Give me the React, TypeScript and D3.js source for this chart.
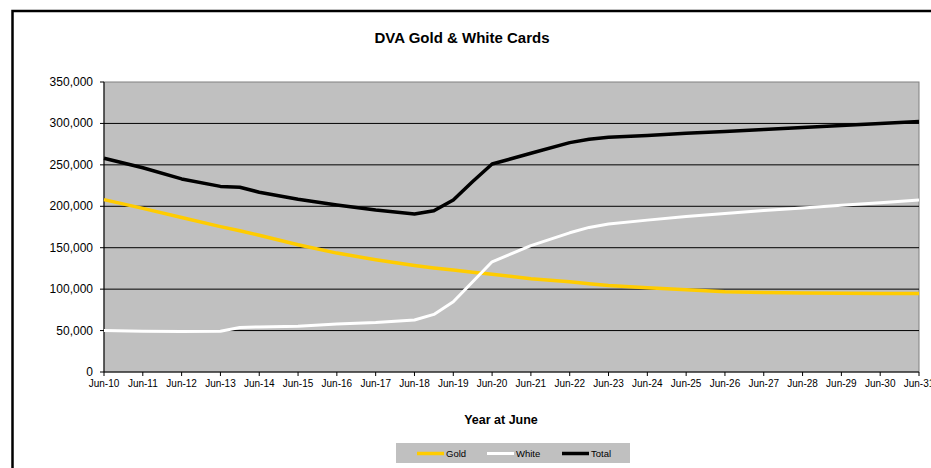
import * as d3 from 'd3';

// half-year points only where the source line has a visible kink
const years = [
  2010, 2011, 2012, 2013, 2013.5, 2014, 2015, 2016, 2017, 2018, 2018.5, 2019, 2019.5,
  2020, 2021, 2022, 2022.5, 2023, 2024, 2025, 2026, 2027, 2028, 2029, 2030, 2031
];

const gold = [
  208000, 197500, 186500, 175500, 170500, 165000, 153500, 143500, 135500, 128500, 125500,
  123000, 120500, 118000, 112500, 109000, 106500, 104500, 101800, 99400, 97000, 95800,
  95200, 95000, 94800, 94600
];

const white = [
  50000, 49200, 48800, 49100, 53800, 54300, 55300, 57800, 59600, 62800, 69500, 84800,
  109000, 133000, 152500, 168000, 174500, 178500, 183300, 187800, 191300, 194800, 198000,
  201200, 204400, 207600
];

const total = [
  258000, 246500, 233000, 224000, 223000, 217000, 208500, 201500, 195500, 190800, 194500,
  207600, 230000, 251000, 264000, 276800, 281000, 283200, 285500, 288000, 290400, 292800,
  295200, 297600, 300000, 302300
];

const tickYears = d3.range(2010, 2032);
const tickLabels = [
  'Jun-10', 'Jun-11', 'Jun-12', 'Jun-13', 'Jun-14', 'Jun-15', 'Jun-16', 'Jun-17',
  'Jun-18', 'Jun-19', 'Jun-20', 'Jun-21', 'Jun-22', 'Jun-23', 'Jun-24', 'Jun-25',
  'Jun-26', 'Jun-27', 'Jun-28', 'Jun-29', 'Jun-30', 'Jun-31'
];
const yTicks = [0, 50000, 100000, 150000, 200000, 250000, 300000, 350000];

const seriesList = [
  { name: 'Gold', values: gold, color: '#ffcc00', width: 3.5 },
  { name: 'White', values: white, color: '#ffffff', width: 3 },
  { name: 'Total', values: total, color: '#000000', width: 3.5 }
];

const W = 931;
const H = 468;
const plot = { left: 104, right: 919, top: 82, bottom: 372 };
const font = 'Arial, "Liberation Sans", sans-serif';

export default function App() {
  const x = d3.scaleLinear().domain([2010, 2031]).range([plot.left, plot.right]);
  const y = d3.scaleLinear().domain([0, 350000]).range([plot.bottom, plot.top]);
  const fmt = d3.format(',');

  const line = (vals: number[]) =>
    d3
      .line<number>()
      .x((_, i) => x(years[i]))
      .y((d) => y(d))(vals) || '';

  const legendX = [417, 487, 562];

  return (
    <svg
      width={W}
      height={H}
      style={{ position: 'absolute', left: 0, top: 0, background: '#fff' }}
      fontFamily={font}
    >
      {/* chart frame */}
      <rect x={12.5} y={11} width={940} height={480} fill='#fff' stroke='#000' strokeWidth={2.5} />

      <text x={462} y={43} textAnchor='middle' fontSize={15} fontWeight='bold'>
        DVA Gold &amp; White Cards
      </text>

      {/* plot area */}
      <rect
        x={plot.left}
        y={plot.top}
        width={plot.right - plot.left}
        height={plot.bottom - plot.top}
        fill='#c0c0c0'
        stroke='#808080'
        strokeWidth={1}
      />

      {/* gridlines + y axis */}
      {yTicks.map((t) => (
        <g key={t}>
          {t > 0 && t < 350000 && (
            <line x1={plot.left} x2={plot.right} y1={y(t)} y2={y(t)} stroke='#000' strokeWidth={1} />
          )}
          <line x1={plot.left - 4} x2={plot.left} y1={y(t)} y2={y(t)} stroke='#000' />
          <text x={93} y={y(t) + 4} textAnchor='end' fontSize={12}>
            {fmt(t)}
          </text>
        </g>
      ))}
      <line x1={plot.left} x2={plot.left} y1={plot.top} y2={plot.bottom} stroke='#000' />

      {/* x axis */}
      <line x1={plot.left} x2={plot.right} y1={plot.bottom} y2={plot.bottom} stroke='#000' />
      {tickYears.map((yr, i) => (
        <g key={yr}>
          <line x1={x(yr)} x2={x(yr)} y1={plot.bottom} y2={plot.bottom + 4} stroke='#000' />
          <text x={x(yr)} y={387} textAnchor='middle' fontSize={10}>
            {tickLabels[i]}
          </text>
        </g>
      ))}

      <text x={501} y={424} textAnchor='middle' fontSize={12.5} fontWeight='bold'>
        Year at June
      </text>

      {/* series */}
      {seriesList.map((s) => (
        <path
          key={s.name}
          d={line(s.values)}
          fill='none'
          stroke={s.color}
          strokeWidth={s.width}
          strokeLinejoin='round'
        />
      ))}

      {/* legend */}
      <rect x={396} y={443} width={234} height={20} fill='#c0c0c0' />
      {seriesList.map((s, i) => (
        <g key={s.name}>
          <line
            x1={legendX[i]}
            x2={legendX[i] + 27}
            y1={453.5}
            y2={453.5}
            stroke={s.color}
            strokeWidth={s.width}
          />
          <text x={legendX[i] + 29} y={457} fontSize={9.5}>
            {s.name}
          </text>
        </g>
      ))}
    </svg>
  );
}
